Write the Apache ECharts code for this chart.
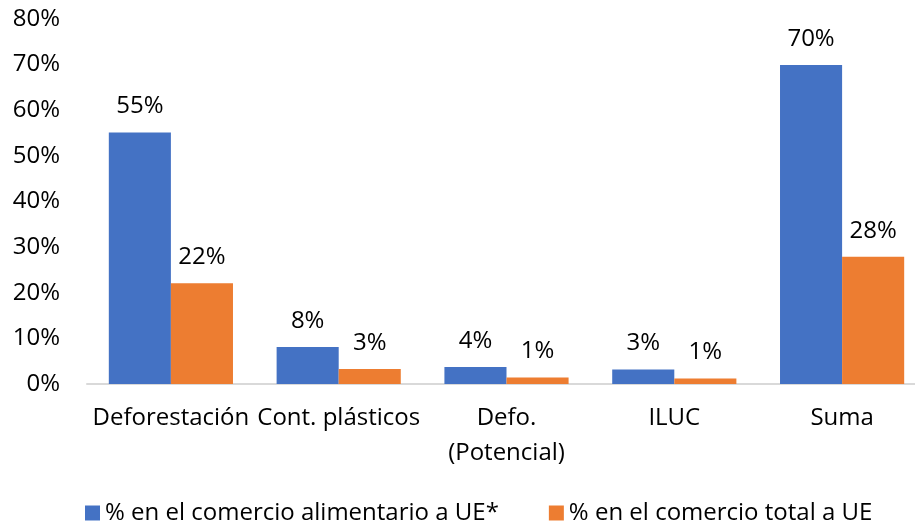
<!DOCTYPE html>
<html>
<head>
<meta charset="utf-8">
<style>
  html, body { margin: 0; padding: 0; background: #fff; }
  #chart { width: 915px; height: 524px; }
</style>
<script src="https://cdn.jsdelivr.net/npm/echarts@6/dist/echarts.min.js"></script>
</head>
<body>
<div id="chart"></div>
<script>
const categories = ['Deforestación', 'Cont. plásticos', 'Defo.\n(Potencial)', 'ILUC', 'Suma']
const seriesNames = ['% en el comercio alimentario a UE*', '% en el comercio total a UE']
const foodTrade = [55.1, 8.1, 3.7, 3.2, 69.9]
const totalTrade = [22.1, 3.3, 1.4, 1.2, 27.9]
const colors = ['#4472C4', '#ED7D31']
const font = 'Open Sans'

const chart = echarts.init(document.getElementById('chart'))

const labelStyle = {
  show: true,
  position: 'top',
  distance: 14,
  color: '#000',
  fontSize: 24,
  fontFamily: font,
  formatter: p => Math.round(p.value) + '%'
}

chart.setOption({
  animation: false,
  color: colors,
  grid: { left: 87, right: -11, top: 19, bottom: 140, outerBoundsMode: 'none' },
  legend: {
    bottom: -6,
    left: 80,
    itemWidth: 15,
    itemHeight: 15,
    itemGap: 50,
    icon: 'rect',
    textStyle: { fontSize: 24, fontFamily: font, color: '#000' },
    data: seriesNames
  },
  xAxis: {
    type: 'category',
    data: categories,
    axisTick: { show: false },
    axisLine: { lineStyle: { color: '#D9D9D9', width: 2 } },
    axisLabel: {
      color: '#000',
      fontSize: 24,
      fontFamily: font,
      margin: 17,
      lineHeight: 35,
      interval: 0
    }
  },
  yAxis: {
    type: 'value',
    min: 0,
    max: 80,
    interval: 10,
    splitLine: { show: false },
    axisLine: { show: false },
    axisTick: { show: false },
    axisLabel: {
      color: '#000',
      fontSize: 24,
      fontFamily: font,
      margin: 27,
      formatter: '{value}%'
    }
  },
  series: [
    {
      name: seriesNames[0],
      type: 'bar',
      data: foodTrade,
      barGap: '0%',
      barCategoryGap: '26%',
      label: labelStyle
    },
    {
      name: seriesNames[1],
      type: 'bar',
      data: totalTrade,
      label: labelStyle
    }
  ]
})
</script>
</body>
</html>
